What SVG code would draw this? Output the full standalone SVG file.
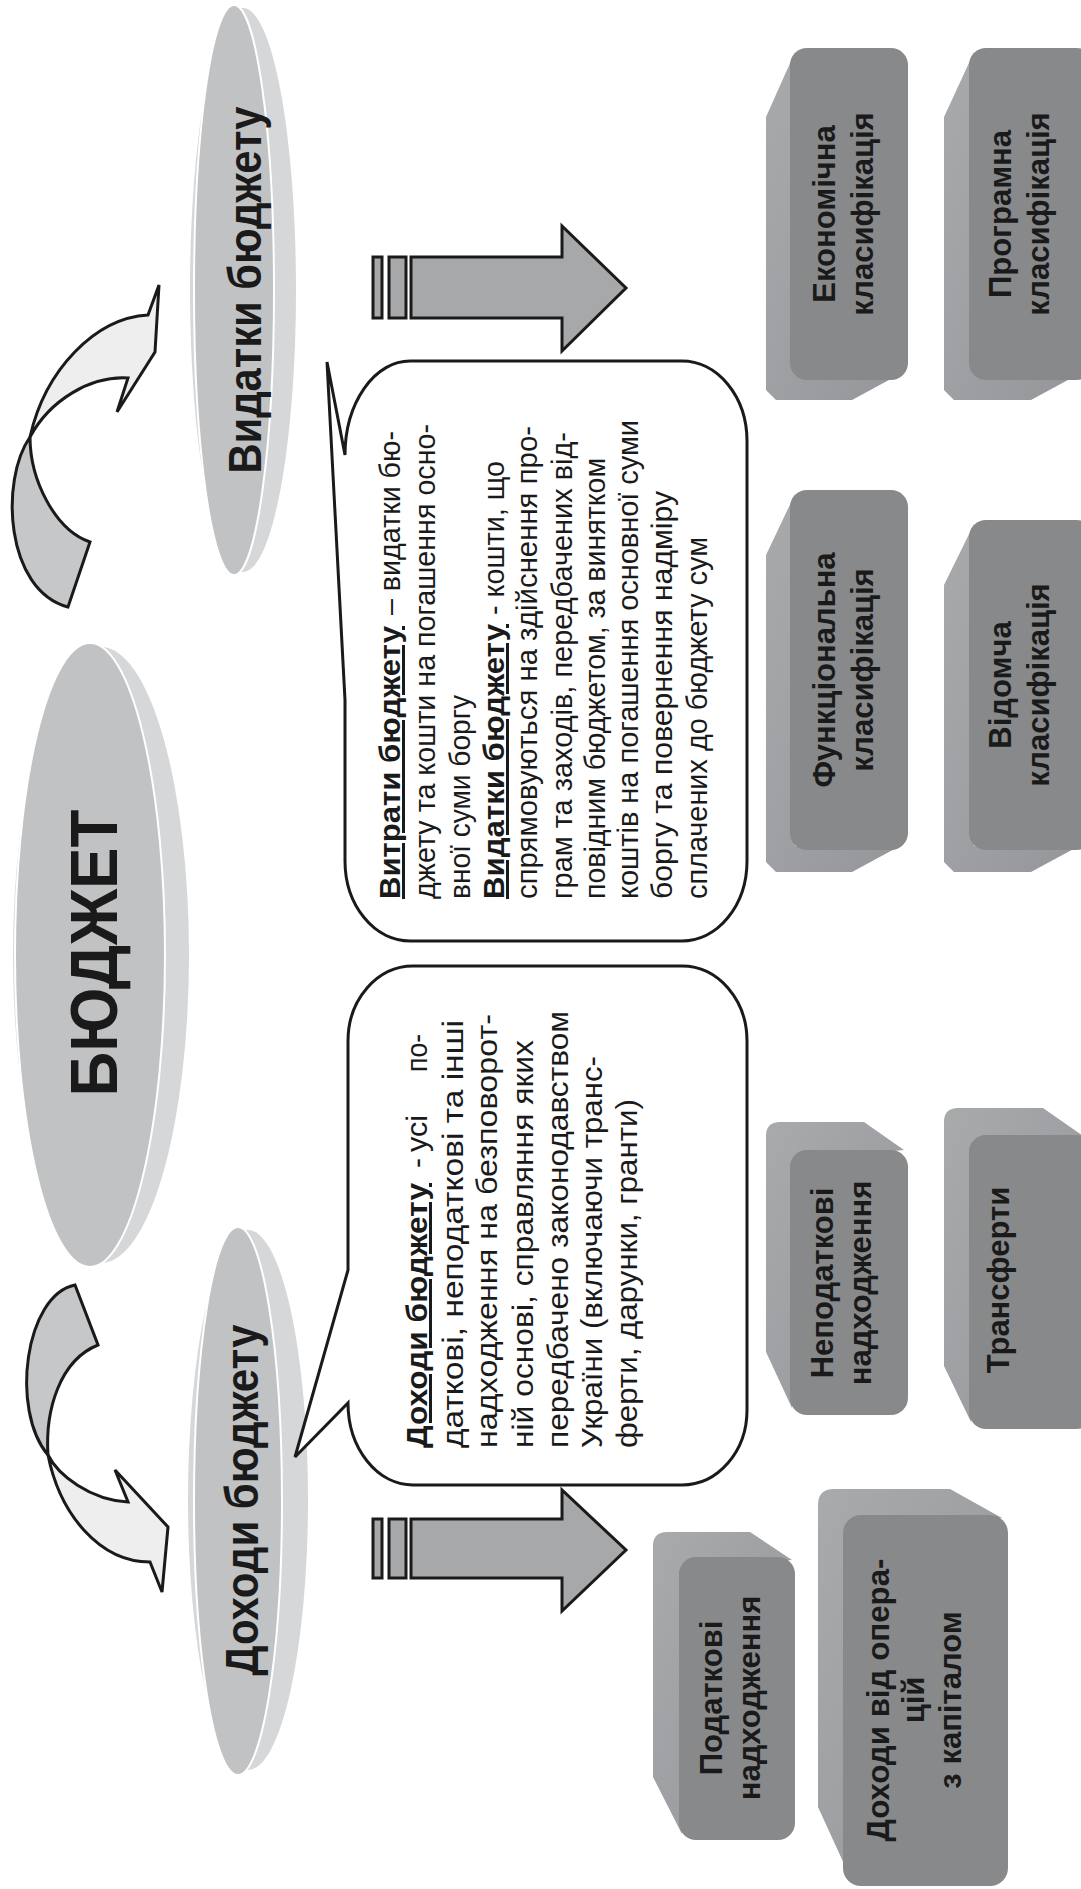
<svg xmlns="http://www.w3.org/2000/svg" width="1081" height="1889" viewBox="0 0 1081 1889">
<defs>
<style>
text{font-family:"Liberation Sans",Arial,sans-serif;fill:#1a1a1a}
.lbl{font-weight:bold;font-size:31px;text-anchor:middle}
.etxt{font-weight:bold;text-anchor:middle}
.side{fill:#d6d7d9}
.face{fill:#c1c2c4;stroke:#ffffff;stroke-width:2}
.bub{fill:#ffffff;stroke:#1a1a1a;stroke-width:3;stroke-linejoin:miter}
.bt{font-size:30px}
.bh{font-weight:bold;text-decoration:underline}
.front{fill:#88898b}
.bevel{fill:url(#bev)}
.barr{fill:#a7a8aa;stroke:#1a1a1a;stroke-width:3}
.dark{fill:#c6c7c9;stroke:#1a1a1a;stroke-width:3}
.light{fill:#eeeeee;stroke:#1a1a1a;stroke-width:3}
</style>
<linearGradient id="bev" x1="0" y1="0" x2="1" y2="1">
<stop offset="0" stop-color="#a9aaac"/>
<stop offset="1" stop-color="#95969a"/>
</linearGradient>
</defs>
<rect width="1081" height="1889" fill="#ffffff"/>

<g id="connectors">
<g id="curve-top">
<path class="dark" d="M30,437 C0,480 5,590 68,607 L90,542 C55,530 30,480 30,437 Z"/>
<path class="light" d="M30,437 C45,370 95,318 148,315 L159,285 L155,352 L117,412 L128,378 C90,376 50,400 30,437 Z"/>
</g>
<g id="curve-bottom">
<path class="dark" d="M75,1285 C25,1295 10,1410 48,1455 C45,1410 60,1360 98,1345 Z"/>
<path class="light" d="M48,1455 C58,1475 90,1500 128,1502 L115,1470 L168,1527 L162,1592 L150,1562 C100,1562 60,1515 48,1455 Z"/>
</g>
<g id="arrow-top">
<rect class="barr" x="373" y="257" width="9" height="61"/>
<rect class="barr" x="389" y="257" width="17" height="61"/>
<path class="barr" d="M411,257 L562,257 L562,226 L626,288 L562,351 L562,318 L411,318 Z"/>
</g>
<g id="arrow-bottom">
<rect class="barr" x="373" y="1519" width="9" height="59"/>
<rect class="barr" x="389" y="1519" width="17" height="59"/>
<path class="barr" d="M411,1519 L562,1519 L562,1490 L626,1550 L562,1611 L562,1578 L411,1578 Z"/>
</g>
</g>

<g id="node-vydatky">
<ellipse class="side" cx="243" cy="290" rx="53" ry="282"/>
<ellipse class="face" cx="234" cy="290" rx="40" ry="285"/>
<text class="etxt" transform="translate(261,290) rotate(-90)" font-size="46" textLength="367" lengthAdjust="spacingAndGlyphs">Видатки бюджету</text>
</g>

<g id="node-budget">
<ellipse class="side" cx="101" cy="955" rx="88" ry="308"/>
<ellipse class="face" cx="90" cy="955" rx="75" ry="312"/>
<text class="etxt" transform="translate(117,953) rotate(-90)" font-size="66" textLength="287" lengthAdjust="spacingAndGlyphs">БЮДЖЕТ</text>
</g>

<g id="node-dokhody">
<ellipse class="side" cx="248" cy="1500" rx="60" ry="270"/>
<ellipse class="face" cx="238" cy="1501" rx="44" ry="274"/>
<text class="etxt" transform="translate(258,1500) rotate(-90)" font-size="46" textLength="351" lengthAdjust="spacingAndGlyphs">Доходи бюджету</text>
</g>

<g id="bubble-vytraty">
<path class="bub" d="M410,361 L682,361 A65,80 0 0 1 747,441 L747,861 A65,80 0 0 1 682,941 L410,941 A65,80 0 0 1 345,861 L345,700 L327,362 L345,455 A65,94 0 0 1 410,361 Z"/>
<g transform="rotate(-90)" class="bt">
<text x="-899" y="400" class="bh" textLength="273" lengthAdjust="spacingAndGlyphs">Витрати бюджету</text>
<text x="-615" y="400" textLength="184" lengthAdjust="spacingAndGlyphs">– видатки бю-</text>
<text x="-899" y="435" textLength="475" lengthAdjust="spacingAndGlyphs">джету та кошти на погашення осно-</text>
<text x="-899" y="470" textLength="204" lengthAdjust="spacingAndGlyphs">вної суми боргу</text>
<text x="-899" y="504" class="bh" textLength="275" lengthAdjust="spacingAndGlyphs">Видатки бюджету</text>
<text x="-615" y="504" textLength="154" lengthAdjust="spacingAndGlyphs">- кошти, що</text>
<text x="-899" y="537" textLength="473" lengthAdjust="spacingAndGlyphs">спрямовуються на  здійснення про-</text>
<text x="-899" y="572" textLength="467" lengthAdjust="spacingAndGlyphs">грам та заходів, передбачених від-</text>
<text x="-899" y="605" textLength="441" lengthAdjust="spacingAndGlyphs">повідним бюджетом, за винятком</text>
<text x="-899" y="638" textLength="479" lengthAdjust="spacingAndGlyphs">коштів на погашення основної суми</text>
<text x="-899" y="672" textLength="408" lengthAdjust="spacingAndGlyphs">боргу та повернення надміру</text>
<text x="-899" y="707" textLength="362" lengthAdjust="spacingAndGlyphs">сплачених до бюджету сум</text>
</g>
</g>

<g id="bubble-dokhody">
<path class="bub" d="M413,966 L682,966 A65,75 0 0 1 747,1041 L747,1410 A65,75 0 0 1 682,1485 L413,1485 A65,82 0 0 1 348,1403 L295,1457 L348,1270 L348,1041 A65,75 0 0 1 413,966 Z"/>
<g transform="rotate(-90)" class="bt">
<text x="-1448" y="427" class="bh" textLength="265" lengthAdjust="spacingAndGlyphs">Доходи бюджету</text>
<text x="-1168" y="427">-</text>
<text x="-1152" y="427" textLength="37" lengthAdjust="spacingAndGlyphs">усі</text>
<text x="-1072" y="427" textLength="38" lengthAdjust="spacingAndGlyphs">по-</text>
<text x="-1448" y="463" textLength="428" lengthAdjust="spacingAndGlyphs">даткові, неподаткові та інші</text>
<text x="-1448" y="497" textLength="434" lengthAdjust="spacingAndGlyphs">надходження на безповорот-</text>
<text x="-1448" y="533" textLength="408" lengthAdjust="spacingAndGlyphs">ній основі, справляння яких</text>
<text x="-1448" y="568" textLength="437" lengthAdjust="spacingAndGlyphs">передбачено законодавством</text>
<text x="-1448" y="602" textLength="392" lengthAdjust="spacingAndGlyphs">України (включаючи транс-</text>
<text x="-1448" y="637" textLength="349" lengthAdjust="spacingAndGlyphs">ферти, дарунки, гранти)</text>
</g>
</g>

<g id="box-ekonomichna">
<polygon class="bevel" points="795,52 766,117 766,390 776,400 852,400 900,374 795,374"/>
<rect class="front" x="790" y="48" width="118" height="332" rx="17"/>
<text class="lbl" transform="translate(835,214) rotate(-90)">Економічна</text>
<text class="lbl" transform="translate(873,214) rotate(-90)">класифікація</text>
</g>

<g id="box-prohramna">
<polygon class="bevel" points="974,52 944,117 944,390 954,400 1031,400 1079,374 974,374"/>
<rect class="front" x="969" y="48" width="125" height="332" rx="17"/>
<text class="lbl" transform="translate(1011,214) rotate(-90)">Програмна</text>
<text class="lbl" transform="translate(1049,214) rotate(-90)">класифікація</text>
</g>

<g id="box-funktsionalna">
<polygon class="bevel" points="795,494 766,555 766,862 776,872 852,872 900,846 795,846"/>
<rect class="front" x="790" y="490" width="118" height="360" rx="17"/>
<text class="lbl" transform="translate(835,670) rotate(-90)">Функціональна</text>
<text class="lbl" transform="translate(873,670) rotate(-90)">класифікація</text>
</g>

<g id="box-vidomcha">
<polygon class="bevel" points="974,524 944,585 944,862 954,872 1031,872 1079,846 974,846"/>
<rect class="front" x="969" y="520" width="125" height="330" rx="17"/>
<text class="lbl" transform="translate(1011,685) rotate(-90)">Відомча</text>
<text class="lbl" transform="translate(1049,685) rotate(-90)">класифікація</text>
</g>

<g id="box-nepodatkovi">
<path class="bevel" d="M766,1352 L766,1136 Q766,1122 780,1122 L864,1122 L904,1150 L800,1160 L792,1408 Z"/>
<rect class="front" x="790" y="1150" width="118" height="265" rx="17"/>
<text class="lbl" transform="translate(833,1283) rotate(-90)">Неподаткові</text>
<text class="lbl" transform="translate(871,1283) rotate(-90)">надходження</text>
</g>

<g id="box-transferty">
<path class="bevel" d="M944,1366 L944,1122 Q944,1108 958,1108 L1043,1108 L1083,1136 L975,1145 L971,1422 Z"/>
<rect class="front" x="969" y="1135" width="125" height="294" rx="17"/>
<text class="lbl" transform="translate(1009,1280) rotate(-90)">Трансферти</text>
</g>

<g id="box-podatkovi">
<path class="bevel" d="M653,1777 L653,1546 Q653,1532 667,1532 L750,1532 L792,1560 L690,1570 L682,1834 Z"/>
<rect class="front" x="679" y="1557" width="116" height="283" rx="17"/>
<text class="lbl" transform="translate(722,1698) rotate(-90)">Податкові</text>
<text class="lbl" transform="translate(760,1698) rotate(-90)">надходження</text>
</g>

<g id="box-kapital">
<path class="bevel" d="M818,1807 L818,1505 Q818,1489 834,1489 L950,1489 L1002,1518 L855,1530 L845,1866 Z"/>
<rect class="front" x="843" y="1515" width="165" height="371" rx="18"/>
<text class="lbl" transform="translate(889,1700) rotate(-90)" textLength="283" lengthAdjust="spacingAndGlyphs">Доходи від опера-</text>
<text class="lbl" transform="translate(924,1700) rotate(-90)">цій</text>
<text class="lbl" transform="translate(961,1700) rotate(-90)">з капіталом</text>
</g>
</svg>
